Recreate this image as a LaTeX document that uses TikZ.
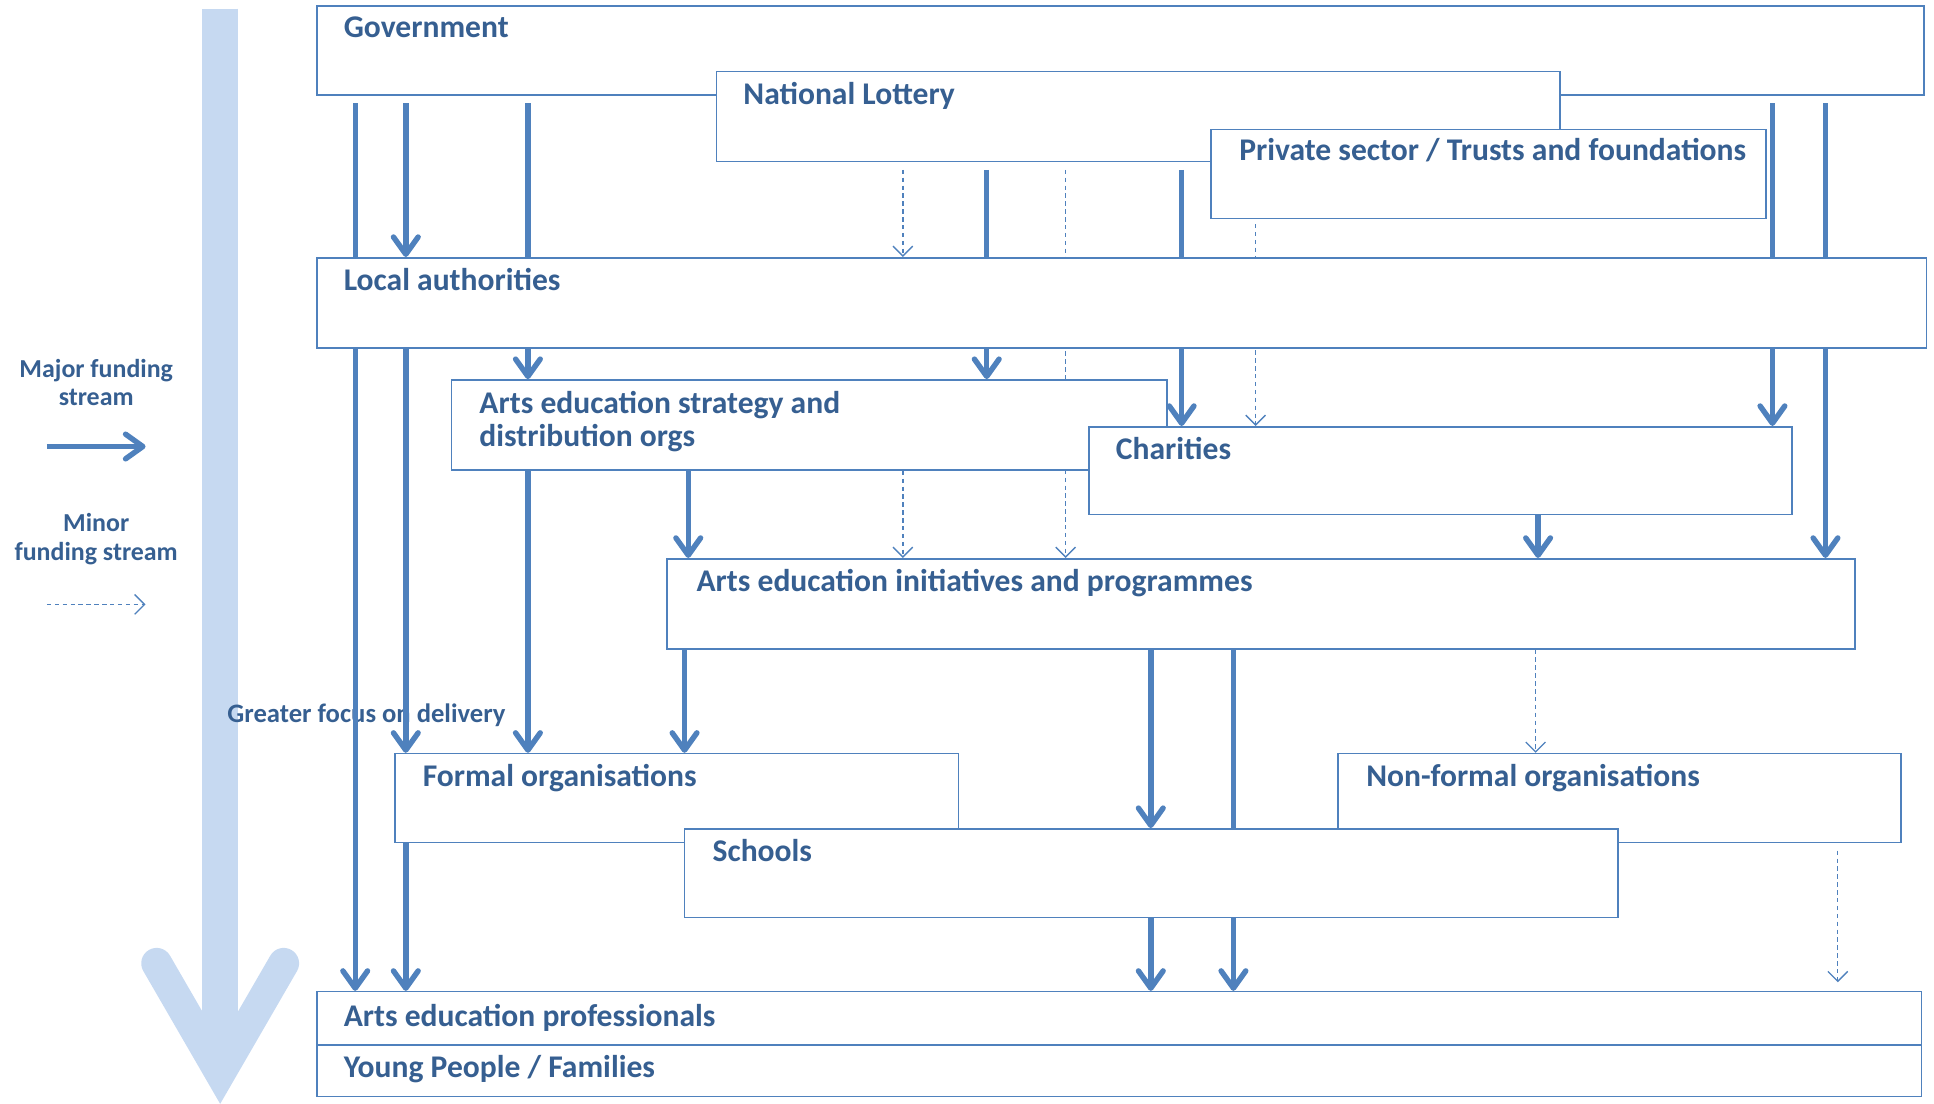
\documentclass[tikz,border=0pt]{standalone}
\usepackage{fontspec}
\setmainfont{Carlito}
\usetikzlibrary{arrows.meta,calc,fit}
\definecolor{lineblue}{HTML}{4F81BD}
\definecolor{textblue}{HTML}{365F91}
\definecolor{paleblue}{HTML}{C6D9F1}
\pgfdeclarelayer{back}
\pgfdeclarelayer{links}
\pgfsetlayers{back,links,main}
\begin{document}
\begin{tikzpicture}[x=0.5pt,y=-0.5pt,
  box/.style={draw=lineblue,line width=0.65pt,fill=white,inner sep=0pt},
  lbl/.style={anchor=base west,inner sep=0pt,text=textblue,font=\bfseries\fontsize{12.8}{13.5}\selectfont},
  legendtxt/.style={inner sep=0pt,text=textblue,align=center,font=\bfseries\fontsize{10.5}{11.5}\selectfont},
  major/.style={draw=lineblue,line width=2.2pt,-{Straight Barb[length=7pt,width=10pt,line cap=round,line join=round]}},
  minor/.style={draw=lineblue,line width=0.55pt,dash pattern=on 1.8pt off 1.4pt,-{Straight Barb[length=4pt,width=8pt]}},
  gap/.style={shorten <=3pt}
]
\useasboundingbox (0,0) rectangle (1568,895);

% boxes
\node[box,fit={(257,5) (1560,77)}] (gov) {};
\node[box,fit={(581,58) (1265,131)}] (nl) {};
\node[box,fit={(982,105) (1432,177)}] (priv) {};
\node[box,fit={(257,209) (1562,282)}] (local) {};
\node[box,fit={(366,308) (946,381)}] (strat) {};
\node[box,fit={(883,346) (1453,417)}] (char) {};
\node[box,fit={(541,453) (1504,526)}] (init) {};
\node[box,fit={(320,611) (777,683)}] (formal) {};
\node[box,fit={(1085,611) (1541,683)}] (nonformal) {};
\node[box,fit={(555,672) (1312,744)}] (schools) {};
\node[box,fit={(257,804) (1558,847)}] (prof) {};
\node[box,fit={(257,847) (1558,889)}] (young) {};

% labels
\node[lbl] (tgov) at ($(gov.north west)+(22,26)$) {Government};
\node[lbl] (tnl) at ($(nl.north west)+(22,27)$) {National Lottery};
\node[lbl] (tpriv) at ($(priv.north west)+(23,26)$) {Private sector / Trusts and foundations};
\node[lbl] (tlocal) at ($(local.north west)+(22,27.5)$) {Local authorities};
\node[lbl] (tstrat1) at ($(strat.north west)+(23,28)$) {Arts education strategy and};
\node[lbl] (tstrat2) at ($(strat.north west)+(23,54.5)$) {distribution orgs};
\node[lbl] (tchar) at ($(char.north west)+(22,27)$) {Charities};
\node[lbl] (tinit) at ($(init.north west)+(24,27.5)$) {Arts education initiatives and programmes};
\node[lbl] (tformal) at ($(formal.north west)+(23,27.5)$) {Formal organisations};
\node[lbl] (tnonformal) at ($(nonformal.north west)+(23,27.5)$) {Non-formal organisations};
\node[lbl] (tschools) at ($(schools.north west)+(23,27.5)$) {Schools};
\node[lbl] (tprof) at ($(prof.north west)+(22,28.5)$) {Arts education professionals};
\node[lbl] (tyoung) at ($(young.north west)+(22,27.5)$) {Young People / Families};

% legend
\node[legendtxt] (lmajor) at (78,310) {Major funding\\stream};
\node[legendtxt] (lminor) at (78,437) {Minor\\funding stream};
\coordinate (lma) at (38,362);
\coordinate (lmb) at (118,362);
\coordinate (lna) at (38,490);
\coordinate (lnb) at (118,490);

% column positions
\coordinate (c288) at (288,0);
\coordinate (c329) at (329,0);
\coordinate (c428) at (428,0);
\coordinate (c555) at (555,0);
\coordinate (c558) at (558,0);
\coordinate (c732) at (732,0);
\coordinate (c800) at (800,0);
\coordinate (c864) at (864,0);
\coordinate (c933) at (933,0);
\coordinate (c958) at (958,0);
\coordinate (c1000) at (1000,0);
\coordinate (c1018) at (1018,0);
\coordinate (c1245) at (1245,0);
\coordinate (c1247) at (1247,0);
\coordinate (c1437) at (1437,0);
\coordinate (c1480) at (1480,0);
\coordinate (c1490) at (1490,0);

\begin{pgfonlayer}{back}
  \draw[paleblue,line width=14.5pt] (178.5,7) -- (178.5,850);
  \draw[paleblue,line width=12.5pt,line cap=round,line join=miter] (127,781) -- (178.5,870) -- (230,781);
  \node[inner sep=0pt,anchor=base west,text=textblue,font=\bfseries\fontsize{10.8}{12}\selectfont] (focus) at (184,586) {Greater focus on delivery};
\end{pgfonlayer}

\begin{pgfonlayer}{links}
  % legend arrows
  \draw[major] (lma) -- (lmb);
  \draw[minor] (lna) -- (lnb);
  % major streams
  \draw[major,gap] (gov.south -| c288) -- (prof.north -| c288);
  \draw[major,gap] (gov.south -| c329) -- (local.north -| c329);
  \draw[major] (local.south -| c329) -- (formal.north -| c329);
  \draw[major] (formal.south -| c329) -- (prof.north -| c329);
  \draw[major,gap] (gov.south -| c428) -- (strat.north -| c428);
  \draw[major] (strat.south -| c428) -- (formal.north -| c428);
  \draw[major,gap] (nl.south -| c800) -- (strat.north -| c800);
  \draw[major,gap] (nl.south -| c958) -- (char.north -| c958);
  \draw[major,gap] (gov.south -| c1437) -- (char.north -| c1437);
  \draw[major,gap] (gov.south -| c1480) -- (init.north -| c1480);
  \draw[major] (strat.south -| c558) -- (init.north -| c558);
  \draw[major] (char.south -| c1247) -- (init.north -| c1247);
  \draw[major] (init.south -| c555) -- (formal.north -| c555);
  \draw[major] (init.south -| c933) -- (schools.north -| c933);
  \draw[major] (schools.south -| c933) -- (prof.north -| c933);
  \draw[major] (init.south -| c1000) -- (prof.north -| c1000);
  % minor streams
  \draw[minor,gap] (nl.south -| c732) -- (local.north -| c732);
  \draw[minor] (strat.south -| c732) -- (init.north -| c732);
  \draw[minor,gap] (nl.south -| c864) -- (init.north -| c864);
  \draw[minor,shorten <=2pt] (priv.south -| c1018) -- (char.north -| c1018);
  \draw[minor] (init.south -| c1245) -- (nonformal.north -| c1245);
  \draw[minor,gap,shorten >=3.5pt] (nonformal.south -| c1490) -- (prof.north -| c1490);
\end{pgfonlayer}
\end{tikzpicture}
\end{document}
